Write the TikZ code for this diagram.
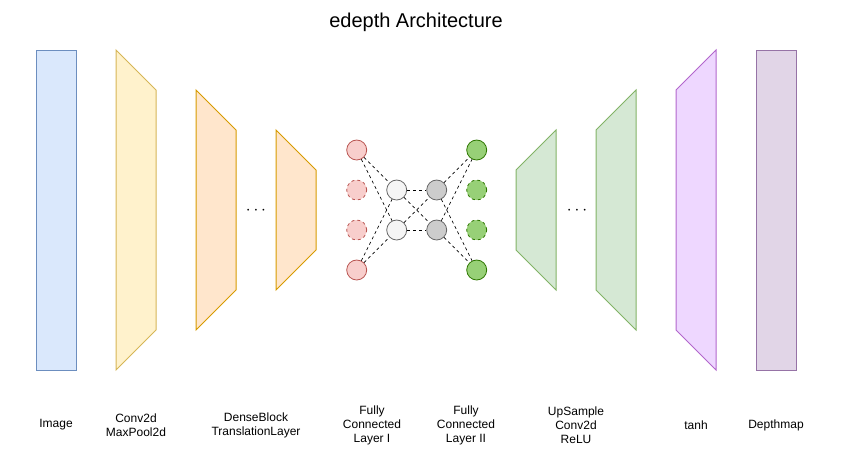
\documentclass[tikz,border=0pt]{standalone}
\usepackage{fontspec}
\setmainfont{Liberation Sans}
\usetikzlibrary{calc}

\definecolor{imgFill}{HTML}{DAE8FC}
\definecolor{imgLine}{HTML}{6C8EBF}
\definecolor{convFill}{HTML}{FFF2CC}
\definecolor{convLine}{HTML}{D6B656}
\definecolor{denseFill}{HTML}{FFE6CC}
\definecolor{denseLine}{HTML}{D79B00}
\definecolor{upFill}{HTML}{D5E8D4}
\definecolor{upLine}{HTML}{82B366}
\definecolor{tanhFill}{HTML}{EED7FF}
\definecolor{tanhLine}{HTML}{B266CC}
\definecolor{depthFill}{HTML}{E1D5E7}
\definecolor{depthLine}{HTML}{9673A6}
\definecolor{redFill}{HTML}{F8CECC}
\definecolor{redLine}{HTML}{B85450}
\definecolor{whiteFill}{HTML}{F5F5F5}
\definecolor{grayFill}{HTML}{CCCCCC}
\definecolor{grayLine}{HTML}{666666}
\definecolor{greenFill}{HTML}{97D077}
\definecolor{greenLine}{HTML}{2D7600}

\tikzset{
  neuron/.style={circle, minimum size=20pt, inner sep=0pt, line width=0.8pt},
  link/.style={dashed, line width=0.7pt, dash pattern=on 3pt off 3pt},
  lbl/.style={font=\fontsize{12}{14}\selectfont, align=center},
  dots/.style={font=\fontsize{18}{20}\selectfont}
}

\begin{document}
\begin{tikzpicture}[x=1pt,y=-1pt]
\useasboundingbox (0,0) rectangle (841,458);
\def\w{40}
% title
\node (title) at (416,22) {\fontsize{20}{24}\selectfont edepth Architecture};
% input and output blocks
\draw[line width=1pt, draw=imgLine, fill=imgFill] (36,50) rectangle +(\w,320);
\draw[line width=1pt, draw=depthLine, fill=depthFill] (756,50) rectangle +(\w,320);
% encoder
\draw[line width=1pt, draw=convLine, fill=convFill] (116,50) -- (156,90) -- (156,330) -- (116,370) -- cycle;
\draw[line width=1pt, draw=denseLine, fill=denseFill] (196,90) -- (236,130) -- (236,290) -- (196,330) -- cycle;
\draw[line width=1pt, draw=denseLine, fill=denseFill] (276,130) -- (316,170) -- (316,250) -- (276,290) -- cycle;
\node[dots] (dotsL) at (256,211) {$\cdots$};
% decoder
\draw[line width=1pt, draw=upLine, fill=upFill] (516,170) -- (556,130) -- (556,290) -- (516,250) -- cycle;
\draw[line width=1pt, draw=upLine, fill=upFill] (596,130) -- (636,90) -- (636,330) -- (596,290) -- cycle;
\node[dots] (dotsR) at (577,211) {$\cdots$};
\draw[line width=1pt, draw=tanhLine, fill=tanhFill] (676,90) -- (716,50) -- (716,370) -- (676,330) -- cycle;
% fully connected layers
\node[neuron, draw=redLine, fill=redFill] (r1) at (356.7,150) {};
\node[neuron, draw=redLine, fill=redFill, dashed] (r2) at (356.7,190) {};
\node[neuron, draw=redLine, fill=redFill, dashed] (r3) at (356.7,230) {};
\node[neuron, draw=redLine, fill=redFill] (r4) at (356.7,270) {};
\node[neuron, draw=grayLine, fill=whiteFill] (w1) at (396.7,190) {};
\node[neuron, draw=grayLine, fill=whiteFill] (w2) at (396.7,230) {};
\node[neuron, draw=grayLine, fill=grayFill] (g1) at (436.7,190) {};
\node[neuron, draw=grayLine, fill=grayFill] (g2) at (436.7,230) {};
\node[neuron, draw=greenLine, fill=greenFill] (n1) at (476.7,150) {};
\node[neuron, draw=greenLine, fill=greenFill, dashed] (n2) at (476.7,190) {};
\node[neuron, draw=greenLine, fill=greenFill, dashed] (n3) at (476.7,230) {};
\node[neuron, draw=greenLine, fill=greenFill] (n4) at (476.7,270) {};
\foreach \a in {r1,r4} \foreach \b in {w1,w2} \draw[link] (\a) -- (\b);
\foreach \a in {w1,w2} \foreach \b in {g1,g2} \draw[link] (\a) -- (\b);
\foreach \a in {g1,g2} \foreach \b in {n1,n4} \draw[link] (\a) -- (\b);
% labels
\node[lbl] (lImage) at (56,425) {Image};
\node[lbl] (lConv) at (136,425) {Conv2d\\MaxPool2d};
\node[lbl] (lDense) at (256,425) {DenseBlock\\TranslationLayer};
\node[lbl] (lFcA) at (372,425) {Fully\\Connected\\Layer I};
\node[lbl] (lFcB) at (466,425) {Fully\\Connected\\Layer II};
\node[lbl] (lUp) at (576,425) {UpSample\\Conv2d\\ReLU};
\node[lbl] (lTanh) at (696,425) {tanh};
\node[lbl] (lDepth) at (776,425) {Depthmap};
\end{tikzpicture}
\end{document}
